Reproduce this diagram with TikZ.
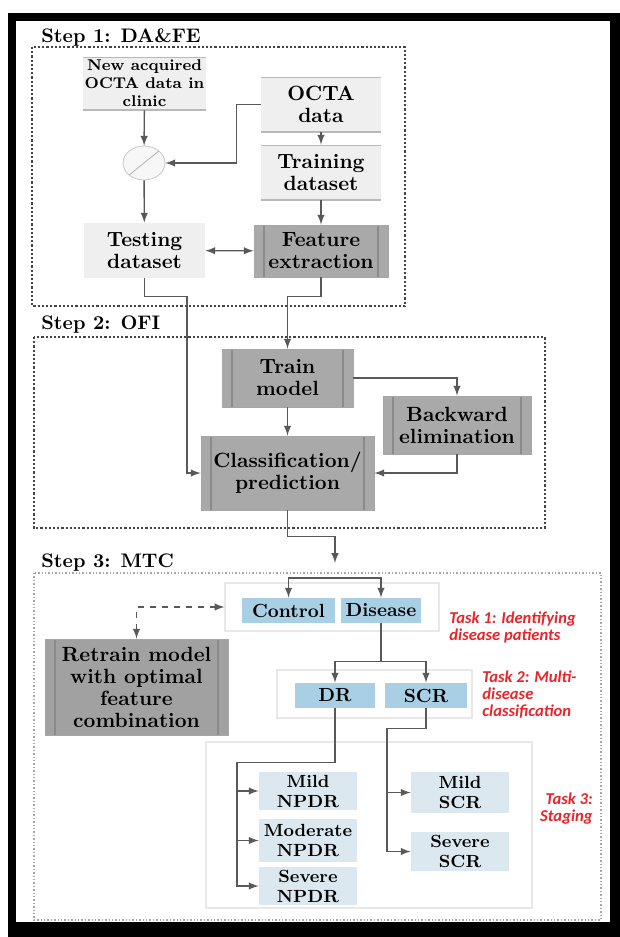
\documentclass[tikz,border=0pt]{standalone}
\usepackage{fontspec}
\newfontfamily\taskfont{Carlito}
\usetikzlibrary{calc,arrows,positioning,shapes.geometric}
\definecolor{liteGray}{HTML}{EFEFEF}
\definecolor{darkGray}{HTML}{A9A9A9}
\definecolor{barGray}{HTML}{8A8A8A}
\definecolor{boxBlue}{HTML}{A8CFE3}
\definecolor{stageBlue}{HTML}{DCE8EF}
\definecolor{lineGray}{HTML}{595959}
\definecolor{frameGray}{HTML}{444444}
\definecolor{taskRed}{HTML}{E8252B}

\begin{document}
\begin{tikzpicture}[x=0.5pt,y=-0.5pt,
  box/.style={align=center,inner sep=1pt,font=\bfseries\fontsize{10.3}{11}\selectfont},
  litebox/.style={box,fill=liteGray,path picture={\draw[gray!55,line width=1.2pt] (path picture bounding box.north west) -- (path picture bounding box.north east) (path picture bounding box.south west) -- (path picture bounding box.south east);}},
  darkbox/.style={box,fill=darkGray,draw=gray!70,path picture={\draw[barGray,line width=0.6pt] ([xshift=5pt]path picture bounding box.north west) -- ([xshift=5pt]path picture bounding box.south west) ([xshift=-5pt]path picture bounding box.north east) -- ([xshift=-5pt]path picture bounding box.south east);}},
  clsbox/.style={box,fill=boxBlue,font=\bfseries\fontsize{9.5}{10}\selectfont,minimum height=12.5pt},
  stgbox/.style={box,fill=stageBlue,minimum width=49pt,font=\bfseries\fontsize{8.8}{10}\selectfont},
  grpbox/.style={draw=gray!18,line width=0.6pt,inner sep=0pt},
  link/.style={draw=lineGray,line width=0.7pt,-latex},
  stepframe/.style={draw=frameGray,densely dotted,line width=1.1pt},
  steptitle/.style={anchor=west,inner sep=0pt,font=\bfseries\fontsize{9.8}{11}\selectfont},
  tasklabel/.style={text=taskRed,inner sep=0pt,font=\taskfont\bfseries\itshape\fontsize{8.3}{8.5}\selectfont}]
    \useasboundingbox (0,0) rectangle (620,937);
    \fill[black] (8,13) rectangle (620,937);
    \fill[white] (16,21) rectangle (610,922);

    % step 1
    \node[steptitle] (title1) at (41,37) {Step 1: DA\&FE};
    \draw[stepframe] (32,47) rectangle (405,306);
    \node[litebox,minimum width=60.5pt,minimum height=26.5pt,font=\bfseries\fontsize{7.8}{9}\selectfont] (newoct) at (144.5,83.5) {New acquired\\OCTA data in\\clinic};
    \node[litebox,minimum width=60pt,minimum height=27.5pt] (octa) at (321,104.5) {OCTA\\data};
    \node[litebox,minimum width=60pt,minimum height=27.5pt] (training) at (321,172.5) {Training\\dataset};
    \node[ellipse,draw=gray!45,fill=gray!6,minimum width=21pt,minimum height=17pt,inner sep=0pt,path picture={\draw[gray!60] (path picture bounding box.south west) -- (path picture bounding box.north east);}] (mixer) at (144,163) {};
    \node[box,fill=liteGray,minimum width=60.5pt,minimum height=27.5pt] (testing) at (144.5,250.5) {Testing\\dataset};
    \node[darkbox,minimum width=67pt,minimum height=26pt] (feature) at (321,251) {Feature\\extraction};

    \draw[link] (newoct) -- (mixer);
    \draw[link] (octa.west) -- ++(-24,0) |- (mixer.east);
    \draw[link] (mixer) -- (testing);
    \draw[link] (octa) -- (training);
    \draw[link] (training) -- (feature);
    \draw[link,latex-latex] (testing) -- (feature);

    % step 2
    \node[steptitle] (title2) at (41,325) {Step 2: OFI};
    \draw[stepframe] (34,337) rectangle (545,528);
    \node[darkbox,minimum width=65.5pt,minimum height=29pt] (train) at (287.5,378) {Train\\model};
    \node[darkbox,minimum width=74pt,minimum height=29pt] (backward) at (457,425) {Backward\\elimination};
    \node[darkbox,minimum width=86.5pt,minimum height=37pt] (classif) at (287.5,473) {Classification/\\prediction};

    \draw[link] (feature.south) -- ++(0,19) -| (train.north);
    \draw[link] (testing.south) -- ++(0,18) -- ++(42.5,0) |- (classif.west);
    \draw[link] (train) -- (classif);
    \draw[link] (train.east) -| (backward.north);
    \draw[link] (backward.south) |- (classif.east);

    % step 3
    \node[steptitle] (title3) at (41,563) {Step 3: MTC};
    \draw[draw=gray!70,densely dotted,line width=0.7pt] (34,573) rectangle (601,920);
    \coordinate (s3in) at (335,563);
    \coordinate (split) at (335,578);
    \draw[link] (classif.south) -- ++(0,26) -| (s3in);

    \node[grpbox,minimum width=107pt,minimum height=24pt] (grp1) at (332,607) {};
    \node[grpbox,minimum width=97.5pt,minimum height=24pt] (grp2) at (374.5,694) {};
    \node[grpbox,minimum width=163pt,minimum height=83pt] (grp3) at (369,825) {};

    \node[clsbox,minimum width=46.5pt] (control) at (288.5,610.5) {Control};
    \node[clsbox,minimum width=40pt] (disease) at (381,610.5) {Disease};
    \node[clsbox,minimum width=40pt] (dr) at (335,695.5) {DR};
    \node[clsbox,minimum width=41pt] (scr) at (426,695.5) {SCR};
    \node[darkbox,fill=darkGray!95!black,minimum width=91.5pt,minimum height=48pt] (retrain) at (136.5,687) {Retrain model\\with optimal\\feature\\combination};

    \node[stgbox,minimum height=19pt] (mildnpdr) at (308,791) {Mild\\NPDR};
    \node[stgbox,minimum height=21.5pt] (modnpdr) at (308,840.5) {Moderate\\NPDR};
    \node[stgbox,minimum height=19pt] (sevnpdr) at (308,886) {Severe\\NPDR};
    \node[stgbox,minimum height=20.5pt] (mildscr) at (460,792.5) {Mild\\SCR};
    \node[stgbox,minimum height=19.5pt] (sevscr) at (460,851.5) {Severe\\SCR};

    \node[tasklabel,anchor=west,align=left] (task1) at (449,627.5) {Task 1: Identifying\\disease patients};
    \node[tasklabel,anchor=west,align=left] (task2) at (482,695) {Task 2: Multi-\\disease\\classification};
    \node[tasklabel,anchor=east,align=right] (task3) at (593,809) {Task 3:\\Staging};

    \draw[link] (split) -| (control.north);
    \draw[link] (split) -| (disease.north);
    \draw[link,dashed,latex-latex] (retrain.north) |- (grp1.west);
    \draw[lineGray,line width=0.7pt] (disease.south) -- ++(0,38) coordinate (dsplit);
    \draw[link] (dsplit) -| (dr.north);
    \draw[link] (dsplit) -| (scr.north);
    \draw[link] (dr.south) -- ++(0,54) -- ++(-98,0) coordinate (drbus) |- (sevnpdr.west);
    \draw[link] (drbus |- mildnpdr.west) -- (mildnpdr.west);
    \draw[link] (drbus |- modnpdr.west) -- (modnpdr.west);
    \draw[link] (scr.south) -- ++(0,20) -- ++(-39,0) coordinate (scrbus) |- (sevscr.west);
    \draw[link] (scrbus |- mildscr.west) -- (mildscr.west);
  \end{tikzpicture}
\end{document}
